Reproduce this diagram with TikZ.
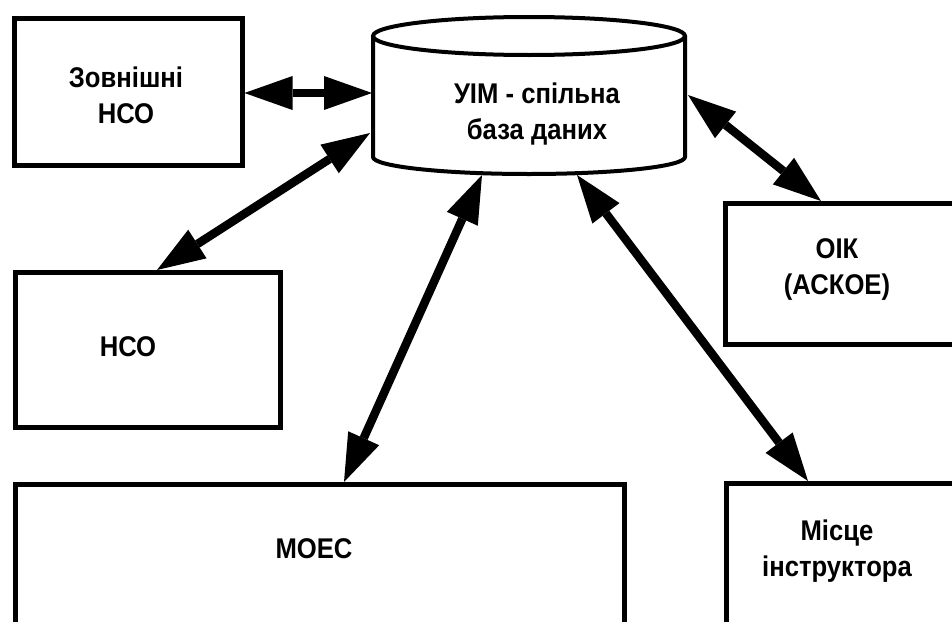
\documentclass[tikz,border=0pt]{standalone}
\usepackage{fontspec}
\setmainfont{Liberation Sans}
\newfontfamily\lblfont{Liberation Sans}[FakeStretch=0.9]
\usetikzlibrary{arrows.meta,calc}
\begin{document}
\begin{tikzpicture}[x=1pt,y=-1pt,
  box/.style={draw, line width=4.5pt, rectangle, inner sep=0pt, anchor=north west, fill=white},
  lbl/.style={font=\lblfont\bfseries\fontsize{28.5pt}{36pt}\selectfont, align=center, inner sep=0pt},
  tip/.tip={Triangle[length=48pt,width=34pt,line width=0pt]},
  link/.style={line width=8.5pt, tip-tip}
]
\useasboundingbox (0,0) rectangle (952,621);
\clip (0,0) rectangle (952,621);

% rectangular blocks
\node[box, minimum width=228pt, minimum height=147pt] (zn) at (12,16) {};
\node[box, minimum width=265pt, minimum height=155pt] (hco) at (13,270) {};
\node[box, minimum width=260pt, minimum height=141pt] (oik) at (723,201) {};
\node[box, minimum width=609pt, minimum height=170pt] (moec) at (13,482) {};
\node[box, minimum width=260pt, minimum height=170pt] (mis) at (724,481) {};

% block captions
\node[lbl] (zn-t) at (126,95) {Зовнішні\\НСО};
\node[lbl] (hco-t) at (128,347) {НСО};
\node[lbl] (oik-t) at (837,270) {ОІК\\(АСКОЕ)};
\node[lbl] (moec-t) at (314,549) {МОЕС};
\node[lbl] (mis-t) at (837,551) {Місце\\інструктора};

% database cylinder
\draw[line width=4pt, fill=white, line join=round]
  (685,36) -- (685,157) arc[start angle=0, end angle=180, x radius=156, y radius=17]
  -- (373,36);
\draw[line width=4pt] (529,36) ellipse[x radius=156, y radius=19];
\node[lbl] (db) at (537,114.5) {УІМ - спільна\\база даних};

\coordinate (dbW) at (372,93);
\coordinate (dbSW) at (370,133);
\coordinate (dbS1) at (482,175);
\coordinate (dbS2) at (577,175);
\coordinate (dbE) at (688,95);

% links
\draw[link] (zn.east |- dbW) -- (dbW);
\draw[link] ([xshift=144pt]hco.north west) -- (dbSW);
\draw[link] ([xshift=331pt]moec.north west) -- (dbS1);
\draw[link] ([xshift=84pt]mis.north west) -- (dbS2);
\draw[link] ([xshift=98pt]oik.north west) -- (dbE);
\end{tikzpicture}
\end{document}
